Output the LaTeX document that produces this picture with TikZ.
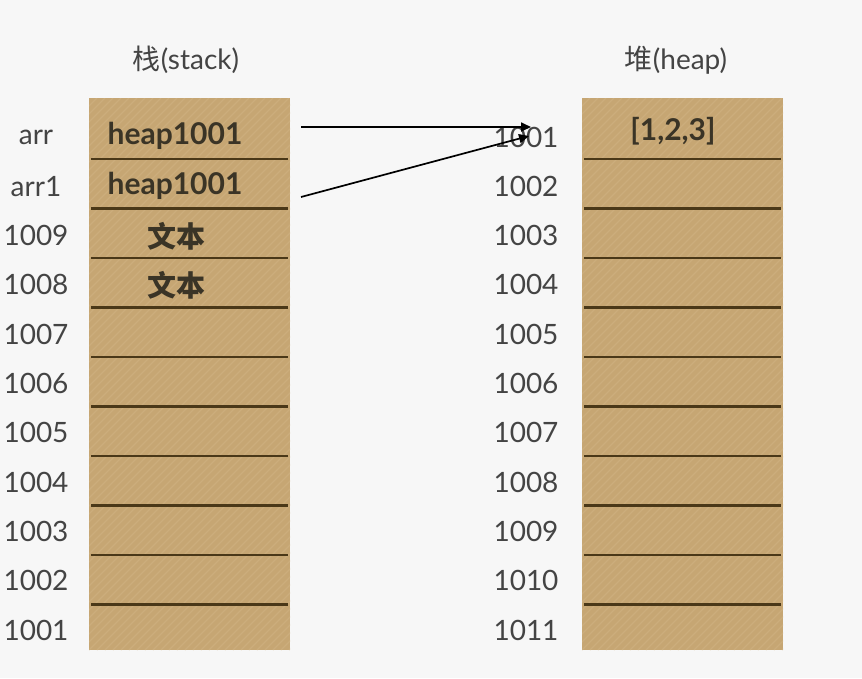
\documentclass[tikz,border=0pt]{standalone}
\usepackage{fontspec}
\setmainfont{Lato}
\newfontfamily\cjk{Noto Sans CJK SC}
\usetikzlibrary{arrows.meta}
\definecolor{bgc}{HTML}{F7F7F7}
\definecolor{tan}{HTML}{C6A673}
\definecolor{tanlt}{HTML}{D2B585}
\definecolor{sep}{HTML}{4A3818}
\definecolor{txt}{HTML}{444444}
\definecolor{btxt}{HTML}{3A3426}
\tikzset{
  lbl/.style={text=txt, font=\fontsize{28}{30}\selectfont, inner sep=0pt},
  ttl/.style={text=txt, font=\fontsize{28}{30}\selectfont, inner sep=0pt},
  val/.style={text=btxt, font=\fontsize{30}{32}\selectfont\bfseries, inner sep=0pt},
  cval/.style={text=btxt, font=\fontsize{29}{31}\selectfont\cjk\bfseries, inner sep=0pt},
  sepline/.style={draw=sep, line width=2.4pt},
  ptr/.style={draw=black, line width=1.7pt, -{Triangle[length=10pt,width=9pt]}},
}
\begin{document}
\begin{tikzpicture}[x=1pt,y=-1pt]
\useasboundingbox (0,0) rectangle (862,678);
\fill[bgc] (0,0) rectangle (862,678);
% boxes
\foreach \bx in {89,582}{
  \fill[tan] (\bx,98) rectangle ++(201,552);
  \begin{scope}
    \clip (\bx,98) rectangle ++(201,552);
    \foreach \k in {-600,-592,...,220}{
      \draw[tanlt, line width=1.2pt, opacity=0.5] (\bx+\k,650) -- ++(552,-552);
    }
  \end{scope}
  \foreach \i in {0,...,9}{
    \draw[sepline] (\bx+2,159+\i*49.5) -- (\bx+199,159+\i*49.5);
  }
}
% titles
\node[ttl] (tstack) at (186,60) {{\cjk 栈}(stack)};
\node[ttl] (theap) at (676,60) {{\cjk 堆}(heap)};
% stack labels
\node[lbl] (sl0) at (36,137) {arr};
\node[lbl] (sl1) at (36,186.3) {arr1};
\foreach \t [count=\i from 2] in {1009,1008,1007,1006,1005,1004,1003,1002,1001}{
  \node[lbl] (sl\i) at (36,137+\i*49.3) {\t};
}
% heap labels
\foreach \t [count=\i from 0] in {1001,1002,1003,1004,1005,1006,1007,1008,1009,1010,1011}{
  \node[lbl] (hl\i) at (526,137+\i*49.3) {\t};
}
% stack contents
\node[val] (v0) at (175,136) {heap1001};
\node[val] (v1) at (175,185.5) {heap1001};
\node[cval] (v2) at (176,236) {文本};
\node[cval] (v3) at (176,285) {文本};
\node[val] (h0) at (673,131) {[1,2,3]};
% pointers
\coordinate (p0) at (301,127);
\coordinate (p1) at (301,197);
\coordinate (q0) at (531,127);
\coordinate (q1) at (529,136);
\draw[ptr] (p0) -- (q0);
\draw[ptr] (p1) -- (q1);
\end{tikzpicture}
\end{document}
